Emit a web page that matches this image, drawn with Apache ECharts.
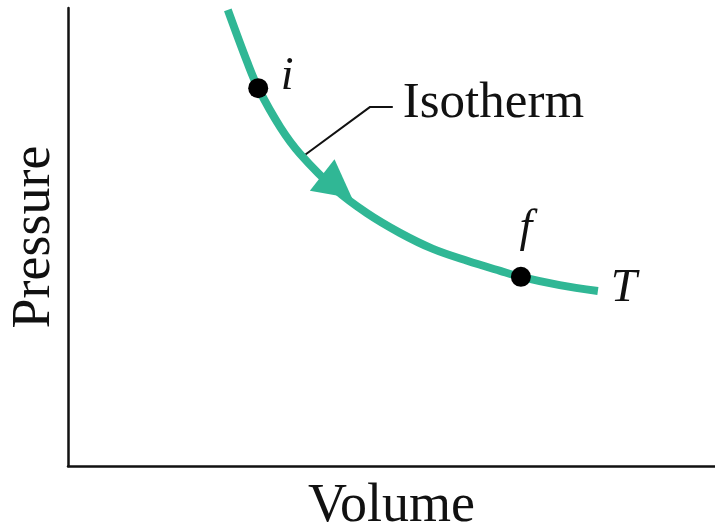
<!DOCTYPE html>
<html>
<head>
<meta charset="utf-8">
<script src="https://cdn.jsdelivr.net/npm/echarts@6/dist/echarts.min.js"></script>
<style>
html,body{margin:0;padding:0;background:#fff;}
#chart{width:715px;height:526px;}
</style>
</head>
<body>
<div id="chart"></div>
<script>
// Isotherm curve (volume, pressure) (arbitrary units 0-10)
const volume   = [2.47, 2.77, 2.94, 3.28, 3.59, 4.14, 4.62, 5.13, 5.64, 6.17, 6.68, 7.00, 7.60, 8.19];
const pressure = [9.96, 8.82, 8.25, 7.40, 6.81, 6.03, 5.52, 5.09, 4.74, 4.48, 4.26, 4.13, 3.95, 3.82];
// states on the isotherm
const stateNames    = ['i', 'f'];
const stateVolume   = [2.94, 7.00];
const statePressure = [8.25, 4.13];
// direction arrow position on the curve
const arrowVolume   = [4.16];
const arrowPressure = [6.10];
// leader line for the "Isotherm" callout
const leaderVolume   = [3.66, 4.67, 5.02];
const leaderPressure = [6.79, 7.84, 7.84];
const curveName = 'Isotherm';
const tempName  = 'T';
const xName = 'Volume';
const yName = 'Pressure';

const zip = (a, b) => a.map((v, k) => [v, b[k]]);
const serif = 'Liberation Serif';
const teal = '#30b795';

const chart = echarts.init(document.getElementById('chart'), null, {renderer: 'canvas'});
chart.setOption({
  animation: false,
  backgroundColor: '#ffffff',
  grid: {left: 68, right: 0, top: 8, bottom: 60, containLabel: false, outerBoundsMode: 'none'},
  xAxis: {
    type: 'value', min: 0, max: 10,
    name: xName, nameLocation: 'middle', nameGap: 14,
    nameTextStyle: {fontFamily: serif, fontSize: 54, color: '#111'},
    axisLine: {show: true, lineStyle: {color: '#111', width: 2.5}},
    axisTick: {show: false}, axisLabel: {show: false}, splitLine: {show: false}
  },
  yAxis: {
    type: 'value', min: 0, max: 10,
    name: yName, nameLocation: 'middle', nameGap: 6, nameRotate: 90,
    nameTextStyle: {fontFamily: serif, fontSize: 54, color: '#111'},
    axisLine: {show: true, lineStyle: {color: '#111', width: 2.5}},
    axisTick: {show: false}, axisLabel: {show: false}, splitLine: {show: false}
  },
  series: [
    {
      type: 'line', z: 1,
      data: zip(leaderVolume, leaderPressure),
      symbol: 'none', silent: true,
      lineStyle: {color: '#111', width: 2},
      endLabel: {show: true, formatter: curveName, distance: 10, offset: [0, -3],
        fontFamily: serif, fontSize: 51, color: '#111'}
    },
    {
      type: 'line', z: 2,
      data: zip(volume, pressure),
      smooth: 0.35, symbol: 'none',
      lineStyle: {color: teal, width: 8, cap: 'butt'},
      endLabel: {show: true, formatter: tempName, position: 'inside', distance: 0,
        align: 'center', verticalAlign: 'middle', offset: [26, -2],
        fontFamily: serif, fontStyle: 'italic', fontSize: 47, color: '#111'}
    },
    {
      type: 'scatter', z: 3,
      data: zip(arrowVolume, arrowPressure),
      symbol: 'triangle', symbolSize: [40, 38], symbolRotate: -128,
      itemStyle: {color: teal, opacity: 1}
    },
    {
      type: 'scatter', z: 4,
      data: stateNames.map((n, k) => ({name: n, value: [stateVolume[k], statePressure[k]]})),
      symbol: 'circle', symbolSize: 20,
      itemStyle: {color: '#000', opacity: 1},
      label: {
        show: true, formatter: p => p.name, position: 'inside',
        align: 'center', verticalAlign: 'middle', opacity: 1,
        fontFamily: serif, fontStyle: 'italic', fontSize: 46, color: '#111'
      },
      labelLayout: p => p.dataIndex === 0 ? {dx: 29, dy: -11} : {dx: 5, dy: -48}
    }
  ]
});
</script>
</body>
</html>
